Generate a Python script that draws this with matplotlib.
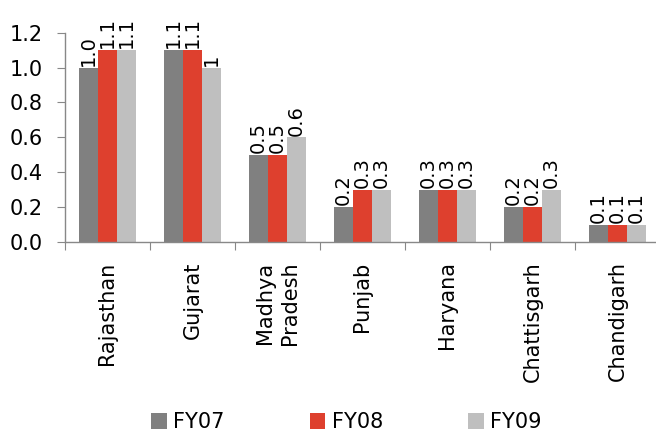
import numpy as np
import matplotlib
matplotlib.use("Agg")
import matplotlib.pyplot as plt

plt.rcParams['font.family'] = ['DejaVu Sans']

states = ['Rajasthan', 'Gujarat', 'Madhya\nPradesh', 'Punjab', 'Haryana', 'Chattisgarh', 'Chandigarh']
series = ['FY07', 'FY08', 'FY09']
fy07 = [1.0, 1.1, 0.5, 0.2, 0.3, 0.2, 0.1]
fy08 = [1.1, 1.1, 0.5, 0.3, 0.3, 0.2, 0.1]
fy09 = [1.1, 1.0, 0.6, 0.3, 0.3, 0.3, 0.1]
fy07_labels = ['1.0', '1.1', '0.5', '0.2', '0.3', '0.2', '0.1']
fy08_labels = ['1.1', '1.1', '0.5', '0.3', '0.3', '0.2', '0.1']
fy09_labels = ['1.1', '1', '0.6', '0.3', '0.3', '0.3', '0.1']
colors = ['#808080', '#DE402E', '#BFBFBF']

fig = plt.figure(figsize=(6.56, 4.33), dpi=100)
ax = fig.add_axes([0.099, 0.441, 0.907, 0.4835])

x = np.arange(len(states))
w = 0.224
for i, (vals, labs) in enumerate(zip([fy07, fy08, fy09], [fy07_labels, fy08_labels, fy09_labels])):
    pos = x + (i - 1) * w
    ax.bar(pos, vals, width=w, color=colors[i], label=series[i], zorder=2)
    for px, v, t in zip(pos, vals, labs):
        ax.text(px, v + 0.01, t, rotation=90, ha='center', va='bottom', fontsize=14)

ax.set_ylim(0, 1.2)
ax.set_xlim(-0.5, len(states) - 0.5)
ax.set_yticks(np.arange(0, 1.21, 0.2))
ax.set_yticklabels([f'{v:.1f}' for v in np.arange(0, 1.21, 0.2)], fontsize=15)

# category boundaries carry the ticks, names sit between them
ax.set_xticks(np.arange(len(states) + 1) - 0.5)
ax.set_xticklabels([])
ax.set_xticks(x, minor=True)
ax.set_xticklabels(states, minor=True, rotation=90, fontsize=15, va='top', ha='center',
                   linespacing=1.35)
ax.tick_params(axis='x', which='minor', length=0, pad=14)
ax.tick_params(axis='x', which='major', length=6, color='#888888', direction='out')
ax.tick_params(axis='y', length=6, color='#888888', pad=10)

for s in ['top', 'right']:
    ax.spines[s].set_visible(False)
for s in ['left', 'bottom']:
    ax.spines[s].set_color('#888888')
    ax.spines[s].set_linewidth(1.0)

fig.legend(loc='center', bbox_to_anchor=(0.528, 0.025), ncol=3, frameon=False,
           fontsize=15, handlelength=0.75, handleheight=0.75, handletextpad=0.3,
           columnspacing=4.1)

fig.savefig('out.png', dpi=100)
